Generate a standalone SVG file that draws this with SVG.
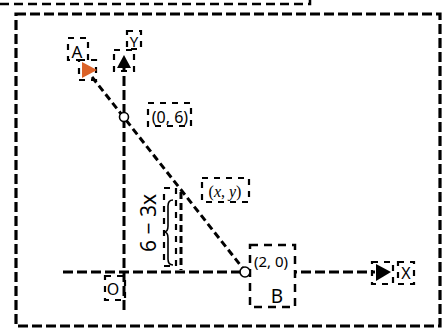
<svg xmlns="http://www.w3.org/2000/svg" width="442" height="331" viewBox="0 0 442 331">
<style>
.frame{fill:none;stroke:#000;stroke-width:3.2;stroke-dasharray:10 4}
.box{fill:none;stroke:#000;stroke-width:2.2;stroke-dasharray:6 6}
.wbox{fill:#fff;stroke:#000;stroke-width:2.5;stroke-dasharray:8 6}
.axis{fill:none;stroke:#000;stroke-width:3;stroke-dasharray:10 4}
.conn{fill:none;stroke:#000;stroke-width:3;stroke-dasharray:7 4}
.lbl{font-family:"Noto Sans","DejaVu Sans",sans-serif;fill:#000;text-anchor:middle}
.dot{fill:#fff;stroke:#000;stroke-width:1.6}
</style>
<rect width="442" height="331" fill="#fff"/>
<path d="M0,4 H310 V0" fill="none" stroke="#000" stroke-width="2.5" stroke-dasharray="9 5"/>
<rect id="frame" class="frame" x="16" y="14" width="424" height="312"/>
<g id="connectors">
  <line class="axis" x1="124" y1="310" x2="124" y2="68"/>
  <line class="axis" x1="63" y1="272" x2="375" y2="272"/>
  <line class="conn" x1="92" y1="77" x2="245" y2="271"/>
  <line class="conn" x1="181" y1="192" x2="181" y2="270"/>
</g>
<g id="node-B">
  <rect class="wbox" x="250" y="245" width="45" height="62"/>
  <text class="lbl" x="271" y="267" font-size="15">(2, 0)</text>
  <text class="lbl" x="277" y="303" font-size="19">B</text>
</g>
<g id="node-A">
  <rect class="box" x="68" y="38" width="20" height="22"/>
  <text class="lbl" x="77" y="58" font-size="17">A</text>
</g>
<g id="marker-A">
  <rect class="box" x="79" y="60" width="17" height="20"/>
  <polygon points="82,62 97,70 82,78" fill="#DB6228"/>
</g>
<g id="arrow-Y">
  <rect class="box" x="114" y="50" width="20" height="21"/>
  <polygon points="124,55 131,68 117,68" fill="#000"/>
</g>
<g id="label-Y">
  <rect class="box" x="127" y="31" width="14" height="18"/>
  <text class="lbl" x="134" y="47" font-size="15">Y</text>
</g>
<g id="label-O">
  <rect class="box" x="105" y="276" width="20" height="24"/>
  <text class="lbl" x="113" y="295" font-size="16">O</text>
</g>
<g id="arrow-X">
  <rect class="box" x="372" y="262" width="21" height="22"/>
  <polygon points="391,272 376,264 376,281" fill="#000"/>
</g>
<g id="label-X">
  <rect class="box" x="398" y="262" width="16" height="22"/>
  <text class="lbl" x="406" y="279" font-size="16">X</text>
</g>
<g id="label-06">
  <rect class="box" x="148" y="103" width="43" height="23"/>
  <text class="lbl" x="170" y="123" font-size="16">(0, 6)</text>
</g>
<g id="label-xy">
  <rect class="box" x="202" y="178" width="47" height="24"/>
  <text x="225" y="197" font-size="16" font-family="'Liberation Serif',serif" text-anchor="middle">(<tspan font-style="italic">x</tspan>,  <tspan font-style="italic">y</tspan>)</text>
</g>
<g id="label-height">
  <text class="lbl" transform="translate(156,223) rotate(-90)" font-size="21">6 − 3x</text>
  <rect class="box" x="164" y="188" width="12" height="78"/>
  <path d="M173,200 Q168,200 168,206 L168,226 Q168,232 164,232 Q168,232 168,238 L168,259 Q168,265 173,265" fill="none" stroke="#000" stroke-width="1.6"/>
</g>
<g id="point-06"><circle class="dot" cx="124" cy="117" r="4.5"/></g>
<g id="point-20"><circle class="dot" cx="245" cy="272" r="5"/></g>
</svg>
